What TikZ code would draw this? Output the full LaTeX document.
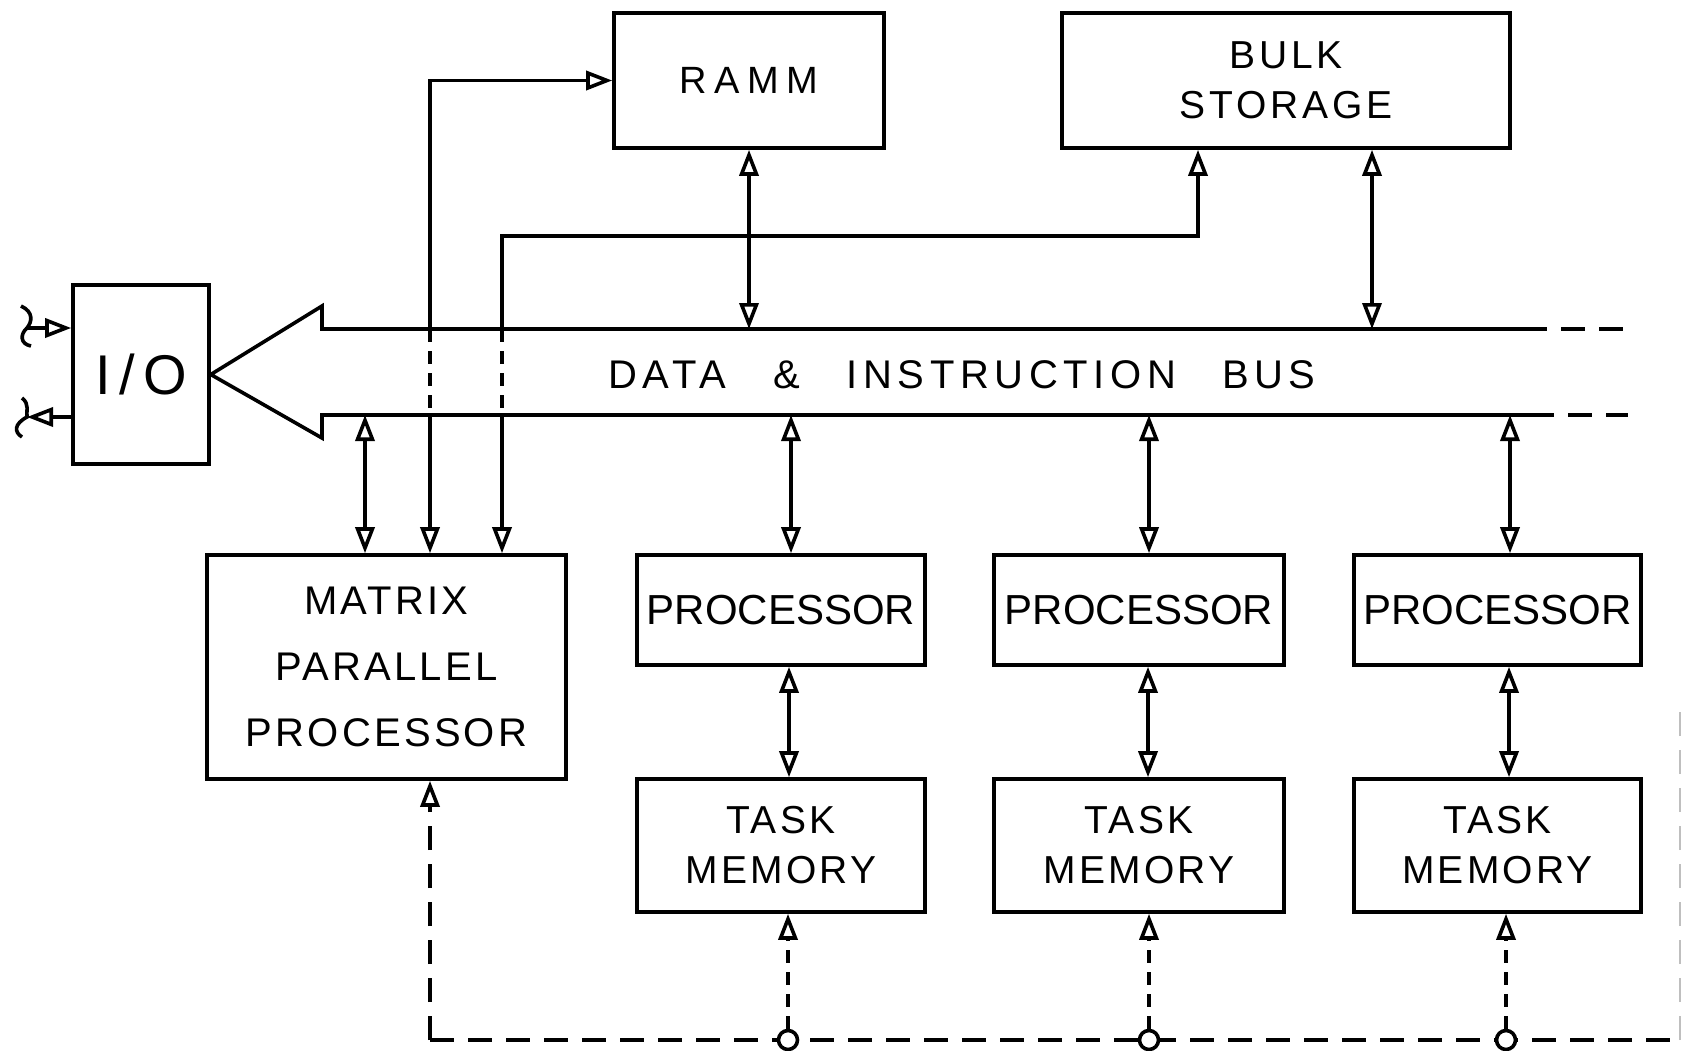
\documentclass[tikz,border=0pt]{standalone}
\usepackage{fontspec}
\setmainfont{Liberation Sans}
\usetikzlibrary{arrows.meta,calc,positioning}
\tikzstyle{block} = [draw, rectangle, line width=3.6pt, align=center, inner sep=0pt]
\tikzstyle{link} = [line width=3.6pt]
\tikzstyle{dline} = [line width=3.6pt, dash pattern=on 24pt off 14pt]
\tikzstyle{xline} = [line width=3.6pt, dash pattern=on 13pt off 9pt]
\tikzstyle{tap} = [draw, circle, fill=white, line width=3.6pt, minimum size=19pt, inner sep=0pt]
\newcommand{\lettering}[3]{\fontsize{#1}{#2}\selectfont\addfontfeature{LetterSpace=#3}}

\begin{document}
\begin{tikzpicture}[x=1pt, y=-1pt, >={Triangle[open, length=26pt, width=19pt]}]
  \useasboundingbox (0,0) rectangle (1682,1050);
  % Nodes
  \node [block, minimum width=270pt, minimum height=135pt, font=\lettering{38}{52}{20}] (ramm) at (749,80.5) {\raisebox{-5pt}{RAMM}};
  \node [block, minimum width=448pt, minimum height=135pt, font=\lettering{39}{50}{10}] (bulk) at (1286,80.5) {BULK\\STORAGE};
  \node [block, minimum width=136pt, minimum height=179pt, font=\lettering{56}{60}{15}] (io) at (141,374.5) {I/O};
  \node [block, minimum width=359pt, minimum height=224pt, font=\lettering{40}{66}{8}] (mpp) at (386.5,667) {MATRIX\\PARALLEL\\PROCESSOR};
  \node [block, minimum width=288pt, minimum height=110pt, font=\lettering{42}{50}{0}] (p1) at (781,610) {PROCESSOR};
  \node [block, minimum width=290pt, minimum height=110pt, font=\lettering{42}{50}{0}] (p2) at (1139,610) {PROCESSOR};
  \node [block, minimum width=287pt, minimum height=110pt, font=\lettering{42}{50}{0}] (p3) at (1497.5,610) {PROCESSOR};
  \node [block, minimum width=288pt, minimum height=133pt, font=\lettering{39}{50}{8}] (tm1) at (781,845.5) {TASK\\MEMORY};
  \node [block, minimum width=290pt, minimum height=133pt, font=\lettering{39}{50}{8}] (tm2) at (1139,845.5) {TASK\\MEMORY};
  \node [block, minimum width=287pt, minimum height=133pt, font=\lettering{39}{50}{8}] (tm3) at (1497.5,845.5) {TASK\\MEMORY};

  % Bus
  \coordinate (busT) at (0,329);
  \coordinate (busB) at (0,415);
  \draw [link] (1523,329) -- (322,329) -- (322,306) -- (io.east) -- (322,438) -- (322,415) -- (1530,415);
  \draw [dline] (1523,329) -- (1628,329);
  \draw [dline] (1530,415) -- (1628,415);
  \node [font=\lettering{40}{48}{14}] (buslbl) at (962,375) {DATA\hspace{47pt}\&\hspace{47pt}INSTRUCTION\hspace{46pt}BUS};

  % Path
  \coordinate (mb) at ($(mpp.north)+(-21.5,0)$);
  \coordinate (mr) at ($(mpp.north)+(43.5,0)$);
  \coordinate (mk) at ($(mpp.north)+(115.5,0)$);
  \coordinate (bk) at ($(bulk.south)+(-88,0)$);
  \coordinate (bs) at ($(bulk.south)+(86,0)$);
  \draw [link, <->] (ramm.south) -- (ramm.south |- busT);
  \draw [link, <->] (bs) -- (bs |- busT);
  \draw [link, <->] (mb |- busB) -- (mb);
  \draw [link, ->] (mr |- busT) |- (ramm.west);
  \draw [xline] (mr |- busT) -- (mr |- busB);
  \draw [link, ->] (mr |- busB) -- (mr);
  \draw [link, ->] (mk |- busT) -- ++(0,-93) -| (bk);
  \draw [xline] (mk |- busT) -- (mk |- busB);
  \draw [link, ->] (mk |- busB) -- (mk);

  \coordinate (q1) at ($(p1.north)+(10,0)$);
  \coordinate (q2) at ($(p2.north)+(10,0)$);
  \coordinate (q3) at ($(p3.north)+(12.5,0)$);
  \draw [link, <->] (q1 |- busB) -- (q1);
  \draw [link, <->] (q2 |- busB) -- (q2);
  \draw [link, <->] (q3 |- busB) -- (q3);
  \draw [link, <->] ($(p1.south)+(8,0)$) -- ($(tm1.north)+(8,0)$);
  \draw [link, <->] ($(p2.south)+(9,0)$) -- ($(tm2.north)+(9,0)$);
  \draw [link, <->] ($(p3.south)+(11.5,0)$) -- ($(tm3.north)+(11.5,0)$);

  % Control line
  \coordinate (low) at (0,1040);
  \coordinate (corner) at (1680,1040);
  \coordinate (t1) at ($(tm1.south)+(7,0)$);
  \coordinate (t2) at ($(tm2.south)+(10,0)$);
  \coordinate (t3) at ($(tm3.south)+(8.5,0)$);
  \draw [dline, ->] (mr |- low) -- (mr |- mpp.south);
  \draw [dline] (mr |- low) -- (corner);
  \draw [dline, line width=1.2pt, black!25] (corner) -- ++(0,-330);
  \node [tap] (c1) at (t1 |- low) {};
  \node [tap] (c2) at (t2 |- low) {};
  \node [tap] (c3) at (t3 |- low) {};
  \draw [xline, ->] (c1) -- (t1);
  \draw [xline, ->] (c2) -- (t2);
  \draw [xline, ->] (c3) -- (t3);

  % I/O lines
  \coordinate (inp) at (27,328);
  \coordinate (outp) at (27,417);
  \draw [link, ->] (inp) -- (inp -| io.west);
  \draw [link, ->] (outp -| io.west) -- (outp);
  \draw [link] (21,306) .. controls (34,312) and (32,322) .. (inp) .. controls (20,334) and (20,344) .. (31,346);
  \draw [link] (22,398) .. controls (30,404) and (26,412) .. (outp) .. controls (14,424) and (14,432) .. (22,437);
\end{tikzpicture}
\end{document}
